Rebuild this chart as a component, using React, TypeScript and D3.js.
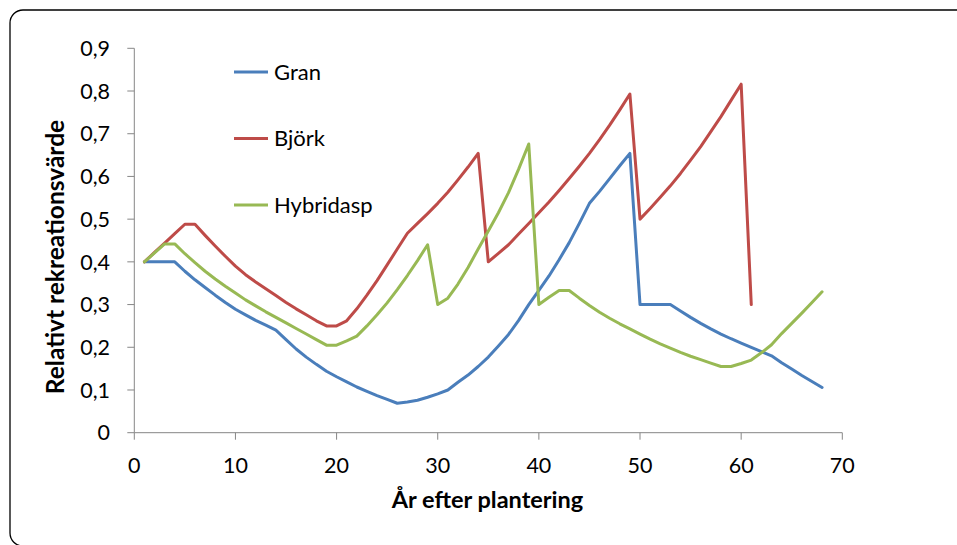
import React from "react";
import * as d3 from "d3";

const years: number[] = Array.from({ length: 68 }, (_, i) => i + 1);

const granValues: number[] = [
  0.4, 0.4, 0.4, 0.4, 0.378, 0.358, 0.34, 0.322, 0.305, 0.289,
  0.276, 0.263, 0.252, 0.24, 0.218, 0.196, 0.177, 0.16, 0.144, 0.131,
  0.119, 0.107, 0.097, 0.087, 0.078, 0.069, 0.072, 0.076, 0.083, 0.091,
  0.1, 0.118, 0.135, 0.155, 0.177, 0.203, 0.23, 0.263, 0.3, 0.333,
  0.367, 0.405, 0.445, 0.49, 0.537, 0.565, 0.595, 0.625, 0.654, 0.3,
  0.3, 0.3, 0.3, 0.285, 0.27, 0.256, 0.243, 0.231, 0.22, 0.21,
  0.2, 0.19, 0.18, 0.164, 0.149, 0.134, 0.12, 0.106,
];

const bjorkValues: number[] = [
  0.4, 0.422, 0.444, 0.466, 0.488, 0.488, 0.462, 0.437, 0.413, 0.39,
  0.37, 0.353, 0.337, 0.321, 0.305, 0.29, 0.276, 0.262, 0.25, 0.25,
  0.262, 0.29, 0.322, 0.356, 0.393, 0.43, 0.467, 0.49, 0.513, 0.537,
  0.563, 0.592, 0.622, 0.654, 0.4, 0.42, 0.44, 0.465, 0.49, 0.515,
  0.54, 0.567, 0.595, 0.624, 0.654, 0.686, 0.72, 0.756, 0.793, 0.5,
  0.525, 0.551, 0.578, 0.607, 0.638, 0.67, 0.705, 0.74, 0.778, 0.816,
  0.3,
];

const hybridaspValues: number[] = [
  0.4, 0.421, 0.442, 0.442, 0.419, 0.398, 0.378, 0.36, 0.343, 0.327,
  0.311, 0.297, 0.283, 0.27, 0.257, 0.244, 0.231, 0.218, 0.205, 0.205,
  0.215, 0.226, 0.25, 0.276, 0.304, 0.335, 0.368, 0.403, 0.44, 0.3,
  0.315, 0.348, 0.387, 0.43, 0.472, 0.515, 0.562, 0.617, 0.676, 0.3,
  0.317, 0.333, 0.333, 0.315, 0.298, 0.282, 0.268, 0.255, 0.243, 0.231,
  0.219, 0.208, 0.198, 0.188, 0.179, 0.171, 0.163, 0.155, 0.155, 0.162,
  0.17, 0.187, 0.206, 0.232, 0.256, 0.28, 0.305, 0.33,
];

const seriesNames: string[] = ["Gran", "Björk", "Hybridasp"];
const seriesColors: string[] = ["#4A7EBB", "#BE4B48", "#98B954"];
const xTicks: number[] = [0, 10, 20, 30, 40, 50, 60, 70];
const yTicks: number[] = [0, 0.1, 0.2, 0.3, 0.4, 0.5, 0.6, 0.7, 0.8, 0.9];
const xTitle = "År efter plantering";
const yTitle = "Relativt rekreationsvärde";

const W = 957;
const H = 545;
const FONT = "Lato, 'Open Sans', sans-serif";

export default function App() {
  const x = d3.scaleLinear().domain([0, 70]).range([134.3, 842.3]);
  const y = d3.scaleLinear().domain([0, 0.9]).range([432.7, 48.3]);
  const allValues = [granValues, bjorkValues, hybridaspValues];
  const line = d3
    .line<[number, number]>()
    .x((d) => x(d[0]))
    .y((d) => y(d[1]));
  const fmt = (v: number) => (v === 0 ? "0" : d3.format(".1f")(v).replace(".", ","));
  const axisColor = "#868686";

  return (
    <svg
      width={W}
      height={H}
      style={{ position: "absolute", left: 0, top: 0, display: "block" }}
    >
      <rect x={0} y={0} width={W} height={H} fill="#fff" />
      <rect
        x={10}
        y={10}
        width={1000}
        height={536}
        rx={13}
        ry={13}
        fill="none"
        stroke="#000"
        strokeWidth={1.3}
      />
      {/* y axis */}
      <line x1={x(0)} x2={x(0)} y1={y(0)} y2={y(0.9)} stroke={axisColor} strokeWidth={1} />
      {yTicks.map((t) => (
        <g key={"y" + t}>
          <line x1={x(0) - 7} x2={x(0)} y1={y(t)} y2={y(t)} stroke={axisColor} strokeWidth={1} />
          <text
            x={110}
            y={y(t)}
            dy="0.36em"
            textAnchor="end"
            fontFamily={FONT}
            fontSize={21.5}
            fill="#000"
          >
            {fmt(t)}
          </text>
        </g>
      ))}
      {/* x axis */}
      <line x1={x(0)} x2={x(70)} y1={y(0)} y2={y(0)} stroke={axisColor} strokeWidth={1} />
      {xTicks.map((t) => (
        <g key={"x" + t}>
          <line x1={x(t)} x2={x(t)} y1={y(0)} y2={y(0) + 7} stroke={axisColor} strokeWidth={1} />
          <text
            x={x(t)}
            y={473}
            textAnchor="middle"
            fontFamily={FONT}
            fontSize={21.5}
            fill="#000"
          >
            {t}
          </text>
        </g>
      ))}
      <text
        x={487.5}
        y={508}
        textAnchor="middle"
        fontFamily={FONT}
        fontSize={23.5}
        fontWeight="bold"
        fill="#000"
      >
        {xTitle}
      </text>
      <text
        transform="translate(64, 257) rotate(-90)"
        textAnchor="middle"
        fontFamily={FONT}
        fontSize={24.5}
        fontWeight="bold"
        fill="#000"
      >
        {yTitle}
      </text>
      {/* lines */}
      {allValues.map((vals, i) => (
        <path
          key={seriesNames[i]}
          d={line(vals.map((v, j) => [years[j], v] as [number, number])) || ""}
          fill="none"
          stroke={seriesColors[i]}
          strokeWidth={3}
          strokeLinejoin="round"
          strokeLinecap="round"
        />
      ))}
      {/* legend */}
      {seriesNames.map((name, i) => (
        <g key={"lg" + name}>
          <line
            x1={234}
            x2={268}
            y1={72 + i * 66.5}
            y2={72 + i * 66.5}
            stroke={seriesColors[i]}
            strokeWidth={3}
          />
          <text
            x={274}
            y={72 + i * 66.5}
            dy="0.36em"
            fontFamily={FONT}
            fontSize={22}
            fill="#000"
          >
            {name}
          </text>
        </g>
      ))}
    </svg>
  );
}
